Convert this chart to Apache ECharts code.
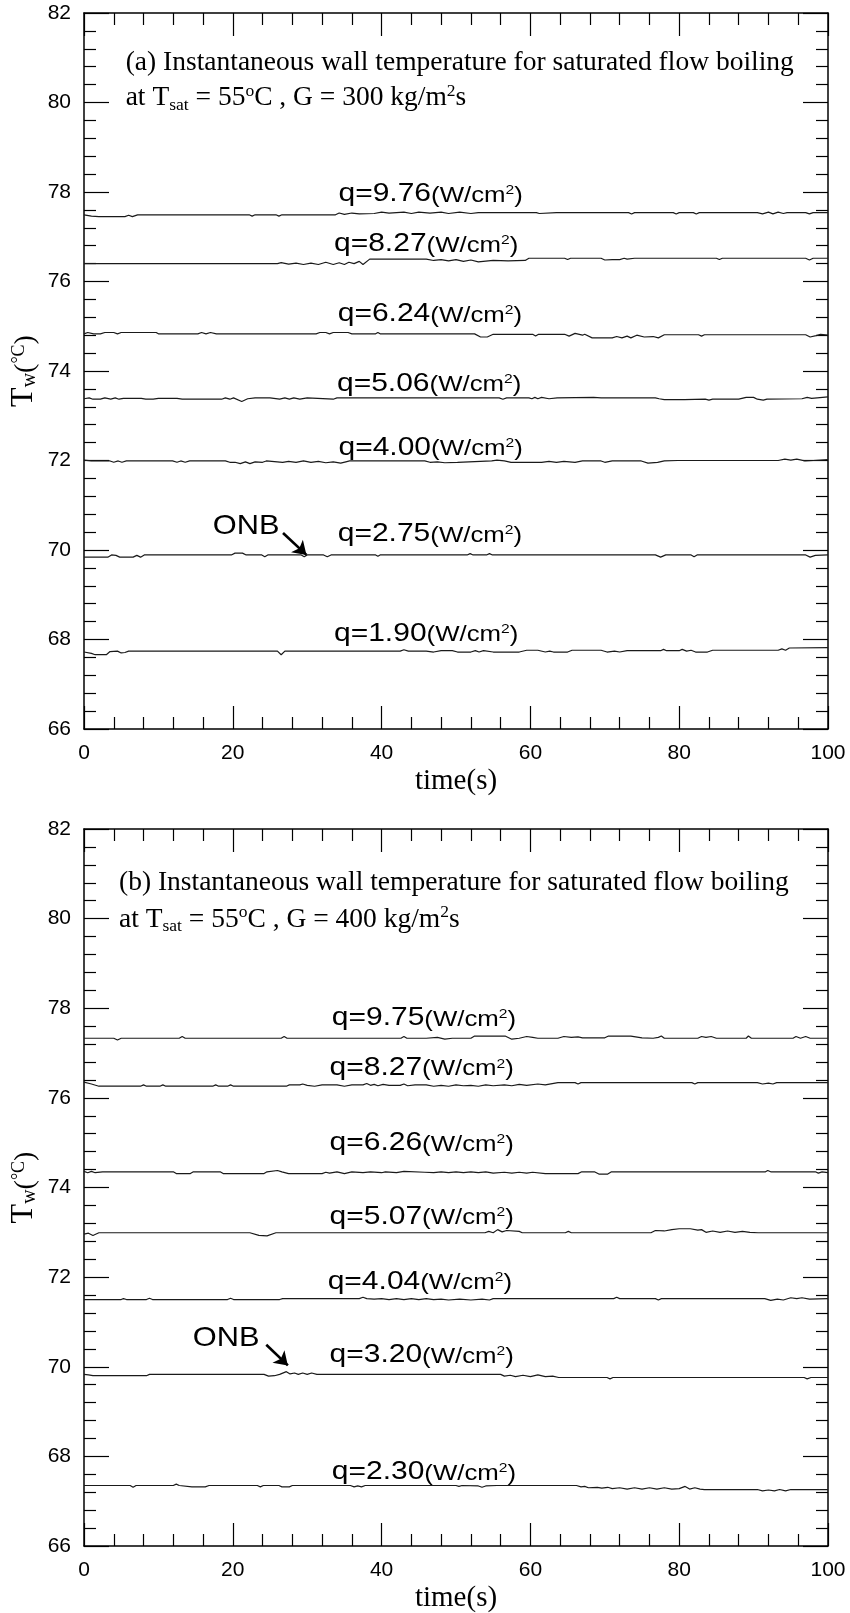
<!DOCTYPE html>
<html><head><meta charset="utf-8">
<script src="https://cdn.jsdelivr.net/npm/echarts@6/dist/echarts.min.js"></script>
<style>html,body{margin:0;padding:0;background:#fff}#c{width:850px;height:1613px}</style>
</head><body><div id="c"></div>
<script>
// ---------- data (time s, wall temperature °C) ----------
const qTop = ['9.76','8.27','6.24','5.06','4.00','2.75','1.90'];
const qBot = ['9.75','8.27','6.26','5.07','4.04','3.20','2.30'];

const a1 = [[0,77.49],[1,77.46],[2,77.45],[5.5,77.45],[6,77.48],[6.5,77.45],[7.2,77.49],[22.2,77.49],[22.6,77.46],[23,77.49],[25.8,77.49],[26.2,77.46],[26.6,77.49],[33.8,77.49],[34.3,77.53],[35,77.5],[36,77.53],[37,77.51],[39,77.52],[40,77.55],[41,77.53],[43,77.55],[44,77.52],[45,77.55],[46.5,77.53],[48,77.55],[49,77.52],[50.5,77.55],[52,77.52],[53,77.54],[60.8,77.54],[61.2,77.52],[63.5,77.54],[73.2,77.54],[73.6,77.51],[74,77.54],[79.2,77.54],[79.6,77.51],[80,77.54],[81.9,77.54],[82.3,77.51],[82.7,77.54],[90.5,77.54],[91.2,77.51],[92,77.55],[92.6,77.51],[93.3,77.55],[94,77.52],[94.5,77.54],[97,77.54],[97.5,77.51],[98,77.54],[100,77.54]];
const a2 = [[0,76.40],[26,76.40],[26.5,76.42],[27.5,76.39],[28.5,76.41],[29.5,76.38],[30.5,76.41],[31.5,76.38],[32.5,76.43],[33.5,76.38],[34.3,76.42],[35,76.38],[35.6,76.43],[36.3,76.40],[37,76.45],[37.5,76.38],[38.4,76.50],[46,76.50],[47,76.47],[48,76.49],[49,76.46],[50,76.49],[51,76.45],[52,76.48],[53,76.44],[55,76.47],[57,76.46],[59.3,76.47],[59.8,76.52],[64.6,76.52],[65,76.49],[65.4,76.52],[69.5,76.52],[70,76.48],[71,76.49],[72,76.49],[72.6,76.52],[73,76.50],[74,76.52],[85,76.52],[85.4,76.49],[85.8,76.52],[97,76.52],[97.5,76.48],[98,76.52],[100,76.52]];
const a3 = [[0,74.83],[0.5,74.86],[1.3,74.83],[2.2,74.83],[2.8,74.86],[4,74.86],[4.5,74.83],[5,74.86],[9.7,74.86],[10,74.83],[15.3,74.83],[15.8,74.86],[16.4,74.83],[17,74.86],[17.8,74.83],[31.2,74.83],[31.7,74.86],[32.5,74.86],[33,74.83],[33.5,74.86],[35.5,74.86],[36,74.83],[39.2,74.83],[39.5,74.86],[39.8,74.83],[52.5,74.83],[53.3,74.76],[54.2,74.76],[55,74.82],[57,74.82],[60.3,74.82],[60.7,74.78],[61.1,74.82],[64.6,74.82],[65.2,74.78],[66,74.84],[67,74.80],[67.3,74.82],[68.3,74.74],[71,74.74],[71.6,74.77],[72.3,74.74],[73,74.78],[73.5,74.74],[74.3,74.80],[75.3,74.76],[76.5,74.77],[77.2,74.74],[78,74.81],[82.6,74.81],[83,74.78],[83.4,74.81],[97,74.81],[97.6,74.76],[98.4,74.79],[99,74.82],[100,74.80]];
const a4 = [[0,73.38],[0.7,73.40],[1.2,73.37],[2.2,73.37],[2.8,73.40],[3.6,73.37],[4.2,73.40],[4.7,73.37],[5.3,73.39],[7.7,73.39],[8.3,73.37],[9.3,73.37],[10,73.39],[12.5,73.39],[13.2,73.37],[18.5,73.37],[19,73.40],[19.6,73.37],[20.1,73.40],[21.2,73.32],[22,73.38],[23,73.40],[25,73.40],[26.3,73.37],[27,73.40],[27.6,73.37],[28.2,73.40],[29,73.37],[30,73.40],[33.5,73.37],[34,73.40],[55.8,73.40],[56.3,73.37],[56.8,73.40],[59.8,73.40],[60.2,73.38],[60.6,73.41],[61,73.38],[61.5,73.41],[62.5,73.38],[63.6,73.40],[68.5,73.41],[69.5,73.40],[76.8,73.40],[77.3,73.38],[78,73.36],[80.7,73.36],[83.5,73.37],[84,73.35],[84.5,73.37],[88,73.37],[89,73.41],[90,73.41],[90.5,73.37],[91.3,73.35],[91.8,73.37],[96.5,73.38],[97.2,73.41],[97.8,73.39],[100,73.42]];
const a5 = [[0,72.01],[1,71.99],[3.5,71.99],[4,71.96],[4.6,71.99],[5.1,71.96],[5.7,71.99],[11.9,71.99],[12.5,71.96],[13,71.99],[13.6,71.96],[14.2,71.99],[19,71.99],[19.6,71.96],[20.3,71.96],[21,71.93],[21.7,71.97],[22.3,71.93],[23,71.97],[24,71.96],[24.5,71.99],[26.7,71.96],[27.5,71.98],[28.5,71.96],[29.5,71.99],[30.5,71.96],[31.5,71.98],[32.5,71.95],[33.5,71.97],[34.5,71.94],[35.2,71.97],[35.7,71.99],[45.8,71.99],[46.5,71.96],[47.5,71.97],[48.5,71.95],[50.2,71.96],[54.8,71.99],[55.5,72.01],[56.5,71.99],[57.4,71.96],[61.5,71.96],[62.5,71.98],[63.5,71.96],[64.5,71.98],[66,71.96],[67,71.99],[69.5,71.99],[70,71.96],[71,71.99],[74.9,71.99],[75.8,71.94],[77.1,71.96],[78,71.99],[79.8,72.00],[93.3,72.00],[94.2,72.03],[95,72.01],[95.8,72.03],[96.9,71.99],[98,72.00],[100,72.02]];
const a6 = [[0,69.84],[3.2,69.84],[3.7,69.89],[4.3,69.88],[4.8,69.84],[6.6,69.84],[7.1,69.88],[7.6,69.84],[8.1,69.89],[19.8,69.89],[20.3,69.93],[21.3,69.93],[21.8,69.89],[23.9,69.89],[24.3,69.85],[24.7,69.89],[29.2,69.89],[29.6,69.85],[30,69.89],[32.2,69.89],[32.7,69.85],[33.2,69.89],[39.2,69.89],[39.5,69.86],[39.8,69.89],[51.5,69.89],[51.9,69.92],[52.3,69.89],[54.1,69.89],[54.5,69.92],[54.9,69.89],[76.8,69.89],[77.5,69.84],[78.2,69.89],[81.6,69.89],[82,69.85],[82.4,69.89],[97,69.89],[97.6,69.84],[98.3,69.88],[100,69.89]];
const a7 = [[0,67.72],[1,67.69],[1.5,67.66],[3,67.66],[3.5,67.73],[4.5,67.74],[5,67.70],[5.5,67.71],[6,67.74],[26,67.74],[26.5,67.66],[27,67.74],[42.5,67.74],[43,67.77],[43.6,67.74],[46,67.74],[47,67.72],[48,67.75],[49.5,67.75],[50.2,67.72],[52,67.72],[52.6,67.75],[53.1,67.72],[53.7,67.75],[55,67.72],[58.5,67.72],[59.5,67.76],[61,67.76],[62,67.72],[62.6,67.74],[63.1,67.72],[65,67.72],[65.6,67.76],[69.5,67.76],[70.3,67.72],[71.3,67.74],[72,67.72],[73,67.75],[77.5,67.75],[77.9,67.78],[78.3,67.75],[80,67.75],[80.4,67.78],[81,67.74],[81.6,67.76],[82.2,67.72],[83.8,67.72],[84.5,67.76],[93.3,67.76],[93.8,67.79],[94.3,67.76],[94.8,67.81],[100,67.82]];

const b1 = [[0,77.33],[4,77.33],[4.5,77.29],[5,77.33],[12.8,77.33],[13.2,77.37],[13.6,77.33],[26.5,77.33],[26.9,77.37],[27.3,77.33],[42.6,77.33],[43,77.37],[43.4,77.33],[46,77.33],[47.5,77.35],[48.5,77.31],[49.5,77.33],[52,77.33],[52.5,77.38],[56.6,77.38],[57.5,77.31],[58.5,77.33],[59.5,77.37],[60.3,77.35],[61,77.33],[63.7,77.33],[64.5,77.37],[65.5,77.35],[66.4,77.36],[67,77.34],[70,77.34],[70.5,77.38],[73.5,77.38],[75,77.34],[76.5,77.33],[77.2,77.35],[77.6,77.38],[78,77.33],[82.5,77.33],[83,77.37],[83.6,77.35],[84.3,77.37],[85,77.33],[89,77.33],[89.3,77.38],[89.7,77.33],[95.3,77.33],[95.7,77.37],[96.3,77.33],[97,77.37],[97.6,77.33],[100,77.33]];
const b2 = [[0,76.35],[1,76.31],[2,76.26],[7.6,76.26],[8,76.29],[8.4,76.26],[10.2,76.26],[10.6,76.29],[11,76.26],[17.3,76.26],[17.7,76.29],[18.1,76.26],[19.3,76.26],[19.7,76.29],[20.1,76.26],[27.2,76.26],[27.6,76.29],[29,76.29],[29.4,76.31],[30,76.28],[31,76.26],[32,76.29],[34,76.29],[35,76.26],[36,76.29],[37.5,76.29],[38,76.32],[38.5,76.28],[39,76.30],[39.5,76.27],[40.2,76.30],[41,76.28],[42.5,76.28],[43,76.31],[43.5,76.27],[44.5,76.29],[46,76.29],[47,76.26],[48,76.28],[49,76.26],[50,76.29],[51,76.27],[52,76.28],[53,76.26],[54,76.29],[55,76.27],[56.5,76.29],[57.5,76.27],[58.5,76.30],[59.5,76.28],[61,76.31],[62,76.29],[63.7,76.34],[66,76.34],[66.4,76.31],[66.8,76.34],[81.7,76.34],[82.1,76.31],[82.5,76.34],[90.5,76.34],[91.2,76.31],[92,76.33],[92.6,76.31],[93.1,76.34],[100,76.34]];
const b3 = [[0,74.36],[0.5,74.33],[1,74.36],[1.5,74.33],[2.5,74.35],[12,74.35],[12.4,74.31],[14.3,74.31],[14.7,74.35],[18.3,74.35],[18.7,74.31],[24.2,74.31],[24.6,74.35],[26,74.38],[26.6,74.35],[27.5,74.31],[32,74.31],[32.5,74.34],[33,74.32],[34,74.35],[35,74.31],[36,74.35],[37.5,74.33],[38.5,74.35],[40,74.33],[40.5,74.35],[42,74.33],[43,74.36],[45.8,74.34],[47,74.33],[48,74.35],[49,74.33],[50,74.35],[51,74.33],[52,74.35],[53,74.33],[54,74.35],[55,74.32],[56.5,74.34],[57.5,74.32],[58.5,74.34],[59.5,74.32],[60.3,74.34],[62,74.31],[66.4,74.31],[66.9,74.35],[68.6,74.35],[69.2,74.30],[70.4,74.30],[70.9,74.35],[91.6,74.35],[91.9,74.38],[92.3,74.35],[98.3,74.35],[98.7,74.32],[99.2,74.35],[100,74.33]];
const b4 = [[0,72.96],[0.6,72.98],[1.2,72.93],[2,72.99],[22.3,72.99],[23.5,72.93],[24.6,72.92],[25.8,72.99],[53.9,72.99],[54.4,73.02],[55,72.99],[55.6,73.06],[56.2,73.01],[56.8,73.04],[58.5,73.02],[58.9,72.99],[64.7,72.99],[65.1,73.02],[65.5,72.99],[76.2,72.99],[76.8,73.04],[78,73.03],[79,73.06],[80,73.08],[81.5,73.08],[82.5,73.05],[83,73.06],[83.6,73.00],[84.5,73.03],[85.5,73.00],[86.5,73.03],[87.5,73.00],[88.5,73.02],[89.5,73.00],[90.6,72.99],[100,72.99]];
const b5 = [[0,71.50],[5,71.50],[5.3,71.52],[5.7,71.50],[8.4,71.50],[8.8,71.53],[9.2,71.50],[19.3,71.50],[19.7,71.53],[20.1,71.50],[26.3,71.50],[26.7,71.52],[37,71.52],[37.5,71.55],[38,71.52],[39,71.51],[40,71.52],[41,71.50],[42,71.52],[43,71.50],[44,71.52],[45,71.50],[46,71.52],[47,71.50],[48,71.51],[49,71.49],[50.5,71.51],[52,71.49],[53.5,71.51],[54.5,71.49],[55,71.52],[71.2,71.52],[71.6,71.55],[72,71.52],[76.8,71.52],[77.2,71.49],[77.6,71.52],[91.5,71.52],[92.3,71.48],[93.2,71.51],[94,71.49],[95,71.54],[95.8,71.52],[96.5,71.54],[97.5,71.51],[100,71.52]];
const b6 = [[0,69.83],[0.6,69.82],[1.2,69.80],[8.4,69.80],[8.8,69.83],[24.2,69.83],[24.8,69.79],[25.6,69.80],[26.3,69.83],[27.2,69.89],[27.7,69.84],[28.3,69.86],[28.8,69.83],[29.4,69.86],[30,69.83],[30.6,69.86],[31.3,69.83],[56,69.83],[56.5,69.79],[57.3,69.81],[58,69.78],[59,69.81],[60,69.78],[61,69.82],[62,69.78],[63,69.79],[63.8,69.76],[70.3,69.76],[70.7,69.73],[71.1,69.76],[96.8,69.76],[97.2,69.73],[97.7,69.76],[100,69.76]];
const b7 = [[0,67.35],[6.2,67.35],[6.6,67.31],[7,67.35],[12,67.35],[12.4,67.38],[12.8,67.35],[14.5,67.32],[16.3,67.32],[16.8,67.35],[23.3,67.35],[23.7,67.32],[24.1,67.35],[26.2,67.35],[26.6,67.32],[27.6,67.32],[28,67.35],[35.8,67.35],[36.3,67.32],[36.8,67.34],[37.3,67.32],[37.8,67.35],[50,67.35],[50.4,67.33],[50.8,67.35],[53,67.34],[53.5,67.31],[54,67.34],[55.5,67.35],[66.2,67.35],[66.8,67.32],[67.3,67.33],[67.8,67.30],[69,67.31],[69.6,67.29],[70.4,67.31],[71,67.28],[72,67.30],[73,67.27],[74,67.30],[75,67.27],[76,67.30],[77,67.27],[78,67.30],[79,67.27],[80,67.28],[80.8,67.33],[81.4,67.27],[82.1,67.30],[82.8,67.27],[83.4,67.26],[90.5,67.26],[91.2,67.23],[92,67.25],[92.8,67.23],[93.5,67.26],[94.3,67.23],[95,67.26],[100,67.26]];

const topLines = [a1,a2,a3,a4,a5,a6,a7];
const botLines = [b1,b2,b3,b4,b5,b6,b7];

// label anchors (data coordinates: time, temperature)
const labelTTop = [34.2,33.6,34.1,34.0,34.2,34.1,33.6];
const labelVTop = [77.98,76.86,75.30,73.75,72.32,70.38,68.16];
const labelTBot = [33.3,33.0,33.0,33.0,32.75,33.0,33.3];
const labelVBot = [77.81,76.70,75.02,73.38,71.93,70.29,67.68];

// ONB annotation: text anchor, arrow start, arrow end
const onbText = [[21.8,70.53],[19.1,70.63]];
const onbArrow = [[[26.75,70.38],[29.9,69.89]], [[24.5,70.49],[27.4,70.03]]];

const panelTag = ['(a)','(b)'];
const panelG = ['300','400'];
const titleAnchor = [[[5.6,80.89],[5.6,80.10]], [[4.7,80.79],[4.7,79.98]]];

const xTicks = [0,20,40,60,80,100];
const yTicks = [66,68,70,72,74,76,78,80,82];

// ---------- chart ----------
const chart = echarts.init(document.getElementById('c'), null, {renderer:'canvas'});
const SANS = 'Liberation Sans, Arial, sans-serif';
const SERIF = 'Liberation Serif, Times New Roman, serif';

const grids = [
  {left:84, top:13, width:744, height:716, containLabel:false, outerBoundsMode:'none'},
  {left:84, top:829, width:744, height:717, containLabel:false, outerBoundsMode:'none'}
];

function xAx(gi, pos, show){
  return {type:'value', gridIndex:gi, position:pos, min:xTicks[0], max:xTicks[xTicks.length-1], interval:20,
    axisLine:{show:true, onZero:false, lineStyle:{color:'#000', width:1.5}},
    axisTick:{show:true, inside:true, length:23, lineStyle:{color:'#000', width:1.2}},
    minorTick:{show:true, splitNumber:5, length:12, lineStyle:{color:'#000', width:1.2}},
    splitLine:{show:false}, minorSplitLine:{show:false},
    axisLabel:{show:show, fontSize:21, color:'#000', fontFamily:SANS, margin:14},
    name: show ? 'time(s)' : '', nameLocation:'middle', nameGap:36, nameMoveOverlap:false,
    nameTextStyle:{fontFamily:SERIF, fontSize:29, color:'#000', lineHeight:32}
  };
}
function yAx(gi, pos, show){
  return {type:'value', gridIndex:gi, position:pos, min:yTicks[0], max:yTicks[yTicks.length-1], interval:2,
    axisLine:{show:true, onZero:false, lineStyle:{color:'#000', width:1.5}},
    axisTick:{show:true, inside:true, length:25, lineStyle:{color:'#000', width:1.2}},
    minorTick:{show:true, splitNumber:5, length:12, lineStyle:{color:'#000', width:1.2}},
    splitLine:{show:false}, minorSplitLine:{show:false},
    axisLabel:{show:show, fontSize:21, color:'#000', fontFamily:SANS, margin:13},
    name: show ? '{T|T}{w|w}{p|(}{d|°C}{p|)}' : '', nameLocation:'middle', nameGap:44, nameRotate:90, nameMoveOverlap:false,
    nameTextStyle:{color:'#000', fontFamily:SERIF, rich:{
      T:{fontFamily:SERIF, fontSize:32, lineHeight:36, verticalAlign:'bottom', color:'#000'},
      w:{fontFamily:SERIF, fontSize:20, lineHeight:22, verticalAlign:'bottom', color:'#000'},
      p:{fontFamily:SERIF, fontSize:28, lineHeight:36, verticalAlign:'bottom', color:'#000'},
      d:{fontFamily:SERIF, fontSize:18, lineHeight:20, verticalAlign:'top', padding:[6,0,0,0], color:'#000'}
    }}
  };
}

const xAxes = [], yAxes = [], series = [];
[0,1].forEach(gi => {
  xAxes.push(xAx(gi,'bottom',true), xAx(gi,'top',false));
  yAxes.push(yAx(gi,'left',true), yAx(gi,'right',false));
  const lines = gi === 0 ? topLines : botLines;
  lines.forEach((d,j) => {
    series.push({type:'line', name:(gi?'b':'a')+j, xAxisIndex:gi*2, yAxisIndex:gi*2, data:d,
      symbol:'none', silent:true, lineStyle:{color:'#1a1a1a', width:1.2}});
  });
  series.push({type:'line', xAxisIndex:gi*2, yAxisIndex:gi*2, data:[], silent:true,
    markLine:{silent:true, symbol:['none','arrow'], symbolSize:13, label:{show:false},
      lineStyle:{color:'#000', width:2.6, type:'solid'},
      data:[[{coord:onbArrow[gi][0]},{coord:onbArrow[gi][1]}]]}});
});

chart.setOption({animation:false, backgroundColor:'#fff', grid:grids, xAxis:xAxes, yAxis:yAxes, series:series});

// ---------- text annotations positioned through the axes ----------
const g = [];
function px(gi, pt){ return chart.convertToPixel({xAxisIndex:gi*2, yAxisIndex:gi*2}, pt); }
const qRich = {
  a:{fontFamily:SANS, fontSize:25, lineHeight:28, verticalAlign:'bottom', fill:'#000'},
  b:{fontFamily:SANS, fontSize:21.5, lineHeight:25, verticalAlign:'bottom', fill:'#000'},
  s:{fontFamily:SANS, fontSize:13, lineHeight:13, verticalAlign:'bottom', padding:[0,0,10,0], fill:'#000'}
};
const titleRich = {
  m:{fontFamily:SERIF, fontSize:27.5, lineHeight:32, verticalAlign:'middle', fill:'#000'},
  sub:{fontFamily:SERIF, fontSize:17.5, lineHeight:17, verticalAlign:'bottom', fill:'#000'},
  sup:{fontFamily:SERIF, fontSize:17.5, lineHeight:17, verticalAlign:'top', fill:'#000'}
};
[0,1].forEach(gi => {
  const qs = gi ? qBot : qTop, lt = gi ? labelTBot : labelTTop, lv = gi ? labelVBot : labelVTop;
  qs.forEach((q,j) => {
    const p = px(gi,[lt[j],lv[j]]);
    g.push({type:'text', x:p[0], y:p[1], scaleX:1.2, silent:true,
      style:{text:'{a|q='+q+'}{b|(W/cm}{s|2}{b|)}', rich:qRich, align:'left', verticalAlign:'middle', fill:'#000'}});
  });
  const o = px(gi, onbText[gi]);
  g.push({type:'text', x:o[0], y:o[1], scaleX:1.1, silent:true,
    style:{text:'ONB', fontFamily:SANS, fontSize:28, fill:'#000', align:'center', verticalAlign:'middle'}});
  const t1 = px(gi, titleAnchor[gi][0]), t2 = px(gi, titleAnchor[gi][1]);
  g.push({type:'text', x:t1[0], y:t1[1], silent:true,
    style:{text:panelTag[gi]+' Instantaneous wall temperature for saturated flow boiling', fontFamily:SERIF, fontSize:27.5, fill:'#000', align:'left', verticalAlign:'middle'}});
  g.push({type:'text', x:t2[0], y:t2[1], silent:true,
    style:{text:'{m|at T}{sub|sat}{m| = 55}{sup|o}{m|C , G = '+panelG[gi]+' kg/m}{sup|2}{m|s}', rich:titleRich, align:'left', verticalAlign:'middle', fill:'#000'}});
});
chart.setOption({graphic:g});
</script>
</body></html>
